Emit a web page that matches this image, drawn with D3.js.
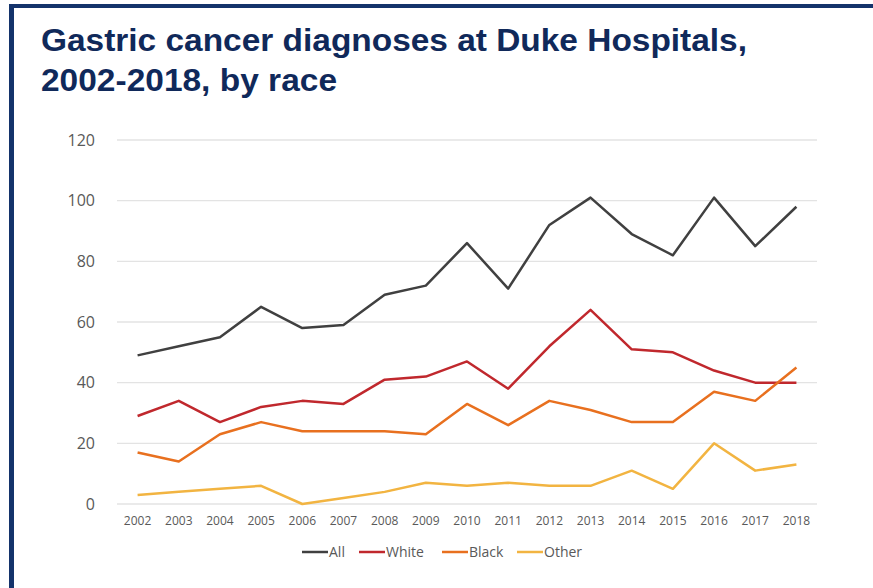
<!DOCTYPE html>
<html>
<head>
<meta charset="utf-8">
<script src="https://cdn.jsdelivr.net/npm/d3@7"></script>
<style>
  body{margin:0;background:#fff;}
  svg text{font-family:"Open Sans","Noto Sans",sans-serif;}
</style>
</head>
<body>
<div id="chart"></div>
<script>
const years = ["2002","2003","2004","2005","2006","2007","2008","2009","2010","2011","2012","2013","2014","2015","2016","2017","2018"];
const allCases   = [49,52,55,65,58,59,69,72,86,71,92,101,89,82,101,85,98];
const whiteCases = [29,34,27,32,34,33,41,42,47,38,52,64,51,50,44,40,40];
const blackCases = [17,14,23,27,24,24,24,23,33,26,34,31,27,27,37,34,45];
const otherCases = [3,4,5,6,0,2,4,7,6,7,6,6,11,5,20,11,13];
const yTicks = [0,20,40,60,80,100,120];
const seriesNames = ["All","White","Black","Other"];
const seriesColors = ["#404040","#c0282d","#e8701f","#f2b441"];
const titleLines = ["Gastric cancer diagnoses at Duke Hospitals,","2002-2018, by race"];

const W = 873, H = 588;
const svg = d3.select("#chart").append("svg")
  .attr("width",W).attr("height",H);

// frame
svg.append("rect").attr("x",9).attr("y",4).attr("width",W-9).attr("height",4).attr("fill","#14336b");
svg.append("rect").attr("x",9).attr("y",4).attr("width",5).attr("height",H-4).attr("fill","#14336b");

// title
const titleW = [706,296];
titleLines.forEach((t,i)=>{
  svg.append("text")
    .attr("x",41).attr("y",51+i*40)
    .attr("textLength",titleW[i]).attr("lengthAdjust","spacingAndGlyphs")
    .style("font-family","'Liberation Sans',Arial,sans-serif")
    .style("font-weight","bold").style("font-size","32px")
    .attr("fill","#10295a")
    .text(t);
});

const margin = {"left":117,"right":56,"top":140,"bottom":84};
const x = d3.scaleBand().domain(years).range([margin.left,W-margin.right]);
const y = d3.scaleLinear().domain([0,120]).range([H-margin.bottom,margin.top]);

// grid
svg.append("g").selectAll("line").data(yTicks).join("line")
  .attr("x1",margin.left).attr("x2",W-margin.right)
  .attr("y1",d=>y(d)).attr("y2",d=>y(d))
  .attr("stroke","#e3e3e3").attr("stroke-width",1.3);

// y axis
const yAxis = svg.append("g")
  .attr("transform",`translate(${margin.left-22},0)`)
  .call(d3.axisLeft(y).tickValues(yTicks).tickSize(0).tickPadding(0));
yAxis.select(".domain").remove();
yAxis.selectAll("text").attr("fill","#595959").style("font-size","16px");

// x axis
const xAxis = svg.append("g")
  .attr("transform",`translate(0,${y(0)+12})`)
  .call(d3.axisBottom(x).tickSize(0).tickPadding(0));
xAxis.select(".domain").remove();
xAxis.selectAll("text").attr("fill","#595959").style("font-size","12px");

// lines
const seriesData = [allCases,whiteCases,blackCases,otherCases];
const line = d3.line()
  .x((d,i)=>x(years[i])+x.bandwidth()/2)
  .y(d=>y(d));
svg.append("g").selectAll("path").data(seriesData).join("path")
  .attr("fill","none")
  .attr("stroke",(d,i)=>seriesColors[i])
  .attr("stroke-width",2.5)
  .attr("stroke-linejoin","round")
  .attr("d",line);

// legend
const legendX = [302,359,442,517];
const legend = svg.append("g").selectAll("g").data(seriesNames).join("g")
  .attr("transform",(d,i)=>`translate(${legendX[i]},552)`);
legend.append("line").attr("x1",0).attr("x2",26).attr("y1",0).attr("y2",0)
  .attr("stroke",(d,i)=>seriesColors[i]).attr("stroke-width",2.5);
legend.append("text").attr("x",27).attr("dy","0.35em")
  .attr("fill","#595959").style("font-size","14px")
  .text(d=>d);
</script>
</body>
</html>
